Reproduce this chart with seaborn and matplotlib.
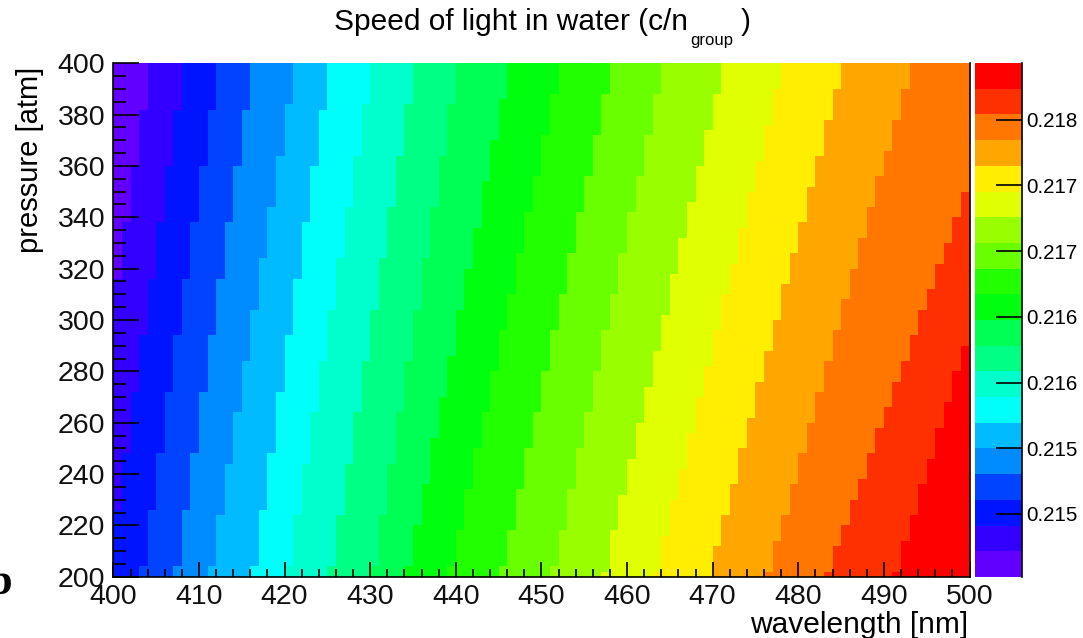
import numpy as np
import pandas as pd
import matplotlib
matplotlib.use("Agg")
import matplotlib.pyplot as plt
import seaborn as sns
from matplotlib.colors import ListedColormap

# ---------------- data ----------------
wavelength_edges_nm = np.arange(400, 501, 1)      # 1 nm bins
pressure_edges_atm = np.arange(200, 401, 2)       # 2 atm bins

# wavelength (nm) of each colour-level boundary (level j | j+1), read at 200 atm and 400 atm
boundary_at_200atm = [395.3, 399.3, 403.3, 407.3, 411.3, 416.3, 420.3, 425.3, 430.3, 434.3,
                      439.3, 445.3, 451.3, 457.3, 463.3, 469.6, 476.4, 483.3, 491.3]
boundary_at_400atm = [404.3, 408.3, 412.3, 416.3, 421.3, 425.3, 430.3, 435.3, 440.3, 446.3,
                      452.3, 458.3, 464.3, 471.3, 478.3, 485.3, 493.3, 505.0, 509.5]

z_min = 0.21402
z_step = 0.0001956
n_levels = 20

level_colors = ["#6200ff", "#3300ff", "#0014ff", "#0044ff", "#008bff", "#00bbff", "#00fffb",
                "#00ffcc", "#00ff85", "#00ff55", "#00ff0e", "#22ff00", "#69ff00", "#99ff00",
                "#e0ff00", "#ffee00", "#ffa700", "#ff7700", "#ff3000", "#ff0000"]

x_ticks = [400, 410, 420, 430, 440, 450, 460, 470, 480, 490, 500]
y_ticks = [200, 220, 240, 260, 280, 300, 320, 340, 360, 380, 400]
cbar_ticks = [0.2145, 0.2150, 0.2155, 0.2160, 0.2165, 0.2170, 0.2175]
cbar_labels = ["0.215", "0.215", "0.216", "0.216", "0.217", "0.217", "0.218"]

# ---------------- build the 2D histogram ----------------
lam_c = 0.5 * (wavelength_edges_nm[:-1] + wavelength_edges_nm[1:])
p_c = 0.5 * (pressure_edges_atm[:-1] + pressure_edges_atm[1:])
t = (p_c - 200.0) / 200.0
b200 = np.array(boundary_at_200atm)
b400 = np.array(boundary_at_400atm)
bounds = np.outer(1 - t, b200) + np.outer(t, b400)
lvl = np.arange(1, n_levels)
L = np.array([np.interp(lam_c, bounds[i], lvl, left=0.5, right=n_levels - 0.5)
              for i in range(len(p_c))])
z = z_min + L * z_step
df = pd.DataFrame(z, index=p_c, columns=lam_c)

# ---------------- figure ----------------
plt.rcParams['font.family'] = ['Liberation Sans', 'DejaVu Sans']
W, H = 1083, 638
fig = plt.figure(figsize=(W / 100, H / 100), dpi=100)
fx = lambda px: px / W
fy = lambda py: 1 - py / H

ax = fig.add_axes([fx(113.4), fy(576.7), fx(969.5) - fx(113.4), fy(63.3) - fy(576.7)])
cax = fig.add_axes([fx(975), fy(577), fx(1022) - fx(975), fy(63) - fy(577)])

sns.heatmap(df, ax=ax, cbar_ax=cax, cmap=ListedColormap(level_colors),
            vmin=z_min, vmax=z_min + n_levels * z_step,
            xticklabels=False, yticklabels=False, linewidths=0)
ax.invert_yaxis()

x0, dx = wavelength_edges_nm[0], 1.0
y0, dy = pressure_edges_atm[0], 2.0
ax.set_xticks([(v - x0) / dx for v in x_ticks])
ax.set_xticklabels([str(v) for v in x_ticks])
ax.set_xticks([(v - x0) / dx for v in np.arange(400, 501, 2)], minor=True)
ax.set_yticks([(v - y0) / dy for v in y_ticks])
ax.set_yticklabels([str(v) for v in y_ticks])
ax.set_yticks([(v - y0) / dy for v in np.arange(200, 401, 5)], minor=True)
ax.set_xlabel("")
ax.set_ylabel("")

for s in ["left", "bottom", "right"]:
    ax.spines[s].set_visible(True)
    ax.spines[s].set_color("black")
    ax.spines[s].set_linewidth(1.2)
ax.spines["top"].set_visible(False)

ax.tick_params(axis="x", which="major", direction="in", length=11, width=1.2, labelsize=20.5,
               pad=5, colors="black", labelcolor="#111111")
ax.tick_params(axis="x", which="minor", direction="in", length=5.5, width=1.2)
ax.tick_params(axis="y", which="major", direction="in", length=18.5, width=1.2, labelsize=20.5,
               pad=6, labelcolor="#111111")
ax.tick_params(axis="y", which="minor", direction="in", length=9.3, width=1.2)
ax.tick_params(top=False, right=False, which="both")
for lab in ax.get_yticklabels():
    lab.set_rotation(0)

cbar = ax.collections[0].colorbar
cbar.set_ticks(cbar_ticks)
cbar.set_ticklabels(cbar_labels)
cbar.outline.set_visible(False)
cax.spines["right"].set_visible(True)
cax.spines["right"].set_color("black")
cax.spines["right"].set_linewidth(1.2)
cax.tick_params(direction="in", length=18.5, width=1.2, labelsize=14.8, pad=3, colors="black")

# texts
fig.text(fx(688), fy(22), "Speed of light in water (c/n", ha="right", va="center", fontsize=21.5)
fig.text(fx(712), fy(41), "group", ha="center", va="center", fontsize=12)
fig.text(fx(741), fy(22), ")", ha="left", va="center", fontsize=21.5)
fig.text(fx(30), fy(67), "pressure [atm]", rotation=90, ha="center", va="top", fontsize=21)
fig.text(fx(968), fy(625), "wavelength [nm]", ha="right", va="center", fontsize=21.5)
fig.text(fx(12), fy(583), "b", ha="right", va="center", fontsize=32, fontweight="bold",
         family="Liberation Serif")

fig.savefig("out.png", dpi=100)
